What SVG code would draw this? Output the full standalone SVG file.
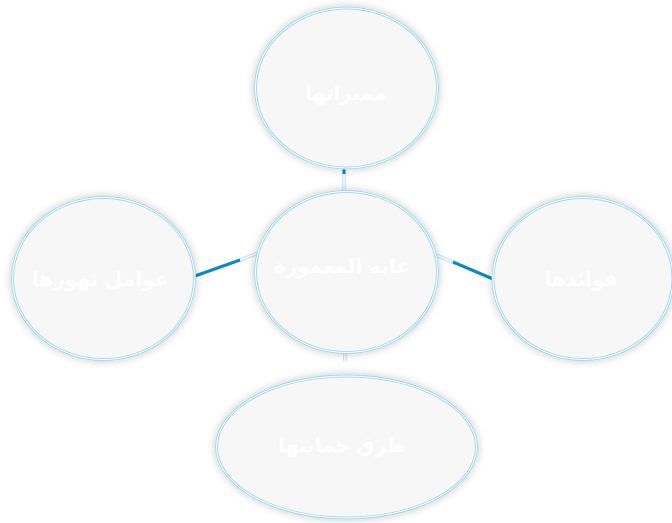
<svg xmlns="http://www.w3.org/2000/svg" width="672" height="523" viewBox="0 0 672 523">
<defs>
<filter id="sh" x="-20%" y="-20%" width="140%" height="140%">
<feGaussianBlur in="SourceAlpha" stdDeviation="4"/>
<feOffset dx="0" dy="0" result="b"/>
<feComponentTransfer><feFuncA type="linear" slope="0.22"/></feComponentTransfer>
<feMerge><feMergeNode/><feMergeNode in="SourceGraphic"/></feMerge>
</filter>
</defs>
<style>
.node ellipse.o{fill:#f7f7f7;stroke:#a6dbeb;stroke-width:3}
.node ellipse.i{fill:none;stroke:#ffffff;stroke-width:1}
.node text{font-family:"DejaVu Sans",sans-serif;font-weight:bold;font-size:20px;fill:#ffffff;text-anchor:middle}
.c1{stroke:#b4e0ec;stroke-width:3.5;fill:none}
.c2{stroke:#ffffff;stroke-width:1.5;fill:none}
.cb{stroke:#0a8ac4;stroke-width:3;fill:none}
</style>
<rect width="672" height="523" fill="#ffffff"/>
<g id="connectors">
<line class="c1" x1="344" y1="172" x2="344" y2="191"/>
<line class="c2" x1="344" y1="172" x2="344" y2="191"/>
<line class="cb" x1="344" y1="169" x2="344" y2="174"/>
<line class="c1" x1="238" y1="261" x2="258" y2="253"/>
<line class="c2" x1="238" y1="261" x2="258" y2="253"/>
<line class="cb" x1="195" y1="276" x2="240" y2="260"/>
<line class="c1" x1="436" y1="255" x2="455" y2="263"/>
<line class="c2" x1="436" y1="255" x2="455" y2="263"/>
<line class="cb" x1="453" y1="262" x2="493" y2="279"/>
<line class="c1" x1="345" y1="352" x2="345" y2="361"/>
<line class="c2" x1="345" y1="352" x2="345" y2="361"/>
</g>
<g id="node-top" class="node">
<ellipse class="o" cx="346.5" cy="88" rx="91" ry="80" filter="url(#sh)"/>
<ellipse class="i" cx="346.5" cy="88" rx="91" ry="80"/>
<text x="346" y="100">مميزاتها</text>
</g>
<g id="node-center" class="node">
<ellipse class="o" cx="346.5" cy="272" rx="91" ry="80.5" filter="url(#sh)"/>
<ellipse class="i" cx="346.5" cy="272" rx="91" ry="80.5"/>
<text x="342" y="273">غابة المعمورة</text>
</g>
<g id="node-left" class="node">
<ellipse class="o" cx="103.5" cy="278.5" rx="91" ry="81" filter="url(#sh)"/>
<ellipse class="i" cx="103.5" cy="278.5" rx="91" ry="81"/>
<text x="100" y="286">عوامل تهورها</text>
</g>
<g id="node-right" class="node">
<ellipse class="o" cx="583" cy="278.5" rx="90" ry="81" filter="url(#sh)"/>
<ellipse class="i" cx="583" cy="278.5" rx="90" ry="81"/>
<text x="581" y="286">فوائدها</text>
</g>
<g id="node-bottom" class="node">
<ellipse class="o" cx="346.5" cy="447" rx="130" ry="71" filter="url(#sh)"/>
<ellipse class="i" cx="346.5" cy="447" rx="130" ry="71"/>
<text x="342" y="452">طرق  حمايتها</text>
</g>
</svg>
